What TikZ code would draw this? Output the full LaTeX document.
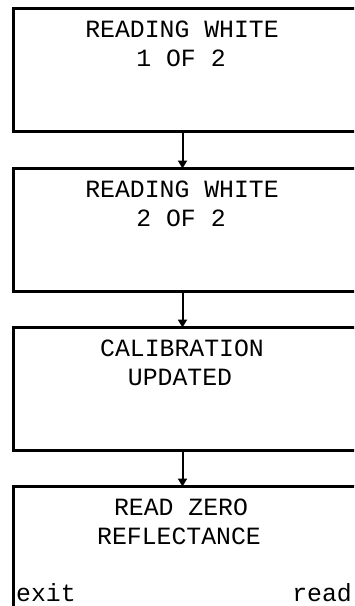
\documentclass[tikz,border=0pt]{standalone}
\usepackage{fontspec}
\setmonofont{Liberation Mono}
\usetikzlibrary{arrows.meta}
\begin{document}
\begin{tikzpicture}[x=1pt,y=-1pt,
  screen/.style={draw=black,line width=3pt,rectangle,anchor=north west,
    minimum width=350pt,minimum height=122.5pt,inner sep=0pt,outer sep=0pt},
  lcd/.style={font=\fontsize{24.8}{29.5}\selectfont\ttfamily,inner sep=0pt,anchor=base},
  flow/.style={line width=2pt,-{Triangle[width=9pt,length=8pt]}}]
\useasboundingbox (0,0) rectangle (354,606);
\clip (0,0) rectangle (354,606);

% display screens of the calibration sequence
\node[screen] (s1) at (13.5,8.5) {};
\node[screen] (s2) at (13.5,168.5) {};
\node[screen] (s3) at (13.5,327.5) {};
\node[screen] (s4) at (13.5,486.5) {};

% screen texts
\node[lcd] (t1a) at (182,37) {READING WHITE};
\node[lcd] (t1b) at (181,66.5) {1 OF 2};
\node[lcd] (t2a) at (182,197) {READING WHITE};
\node[lcd] (t2b) at (181,226.5) {2 OF 2};
\node[lcd] (t3a) at (182,356) {CALIBRATION};
\node[lcd] (t3b) at (180,385.5) {UPDATED};
\node[lcd] (t4a) at (181,515) {READ ZERO};
\node[lcd] (t4b) at (179,544.5) {REFLECTANCE};
\node[lcd,anchor=base west] (kexit) at (16,601) {exit};
\node[lcd,anchor=base east] (kread) at (352,601) {read};

% flow between screens
\coordinate (ax) at (182.5,0);
\draw[flow] (s1.south -| ax) -- (s2.north -| ax);
\draw[flow] (s2.south -| ax) -- (s3.north -| ax);
\draw[flow] (s3.south -| ax) -- (s4.north -| ax);
\end{tikzpicture}
\end{document}
